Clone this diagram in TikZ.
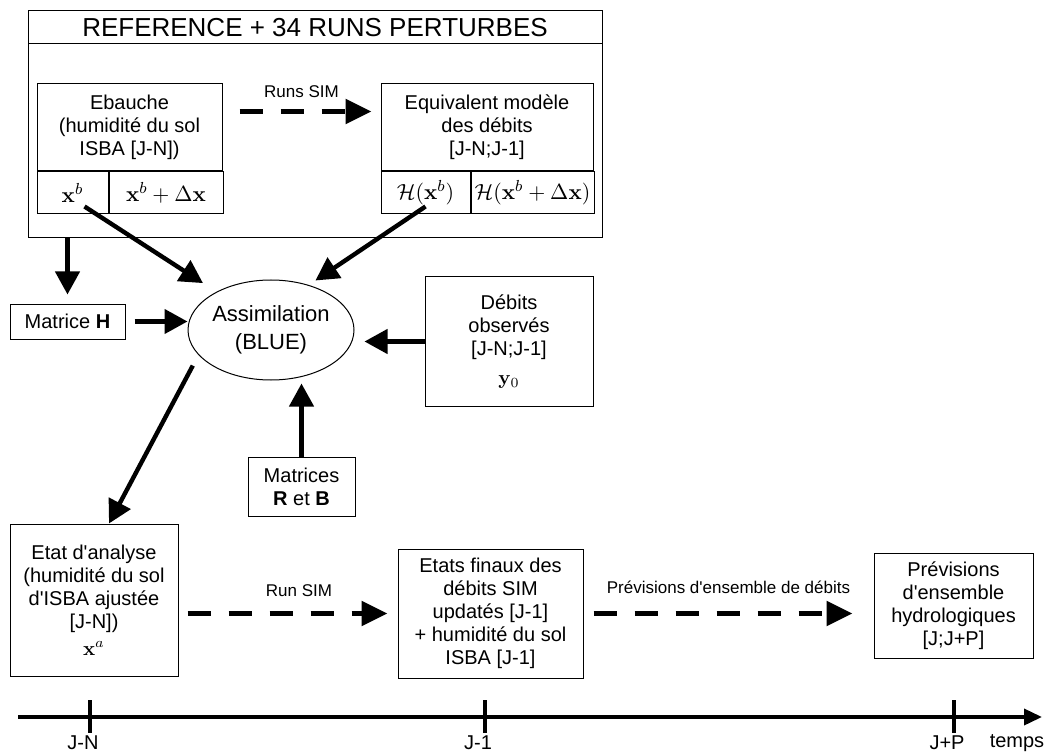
\documentclass[tikz,border=0pt]{standalone}
\usepackage{amsmath,amssymb}
\usepackage[no-math]{fontspec}
\setmainfont{Liberation Sans}[Ligatures=TeXOff]
\usetikzlibrary{shapes.geometric, arrows.meta, positioning}

\begin{document}
\begin{tikzpicture}[
    x=0.5pt, y=-0.5pt,
    box/.style={
        rectangle,
        draw,
        line width=0.5pt,
        inner sep=0pt,
        align=center,
        font=\fontsize{10}{11.5}\selectfont
    },
    cell/.style={
        box,
        anchor=north west,
        minimum height=21pt,
        font=\fontsize{11}{13}\selectfont
    },
    arrowlabel/.style={font=\fontsize{8.5}{10}\selectfont, inner sep=1pt},
    ticklabel/.style={font=\fontsize{10}{11}\selectfont, inner sep=0pt},
    arrow/.style={-{Triangle[length=11.5pt,width=12pt]}, line width=2.2pt},
    dasharrow/.style={-{Triangle[length=13pt,width=12pt]}, line width=2.8pt, dash pattern=on 11.5pt off 9pt},
    timeaxis/.style={-{Triangle[length=9pt,width=8pt]}, line width=1.8pt},
    tickmark/.style={line width=1.8pt}
]
\useasboundingbox (0,0) rectangle (1047,753);

\node[box, minimum width=287pt, minimum height=113.5pt] (runs) at (315,124.5) {};
\node[box, minimum width=287pt, minimum height=16.5pt, font=\fontsize{13}{15}\selectfont] (title) at (315,27.5) {REFERENCE + 34 RUNS PERTURBES};

\node[box, minimum width=92.5pt, minimum height=43.5pt] (ebauche) at (129.5,127.5) {Ebauche\\(humidité du sol\\ISBA [J-N])};
\node[cell, minimum width=35.5pt] (xb) at (ebauche.south west) {$\mathbf{x}^b$};
\node[cell, minimum width=57pt, right=0pt of xb] (xbdx) {$\mathbf{x}^b+\Delta\mathbf{x}$};

\node[box, minimum width=106pt, minimum height=43.5pt] (equiv) at (487,127.5) {Equivalent modèle\\des débits\\{[J-N;J-1]}};
\node[cell, minimum width=44.5pt] (hxb) at (equiv.south west) {$\mathcal{H}(\mathbf{x}^b)$};
\node[cell, minimum width=61.5pt, right=0pt of hxb] (hxbdx) {$\mathcal{H}(\mathbf{x}^b+\Delta\mathbf{x})$};

\node[box, minimum width=57.5pt, minimum height=17.5pt] (matH) at (67.5,321.5) {Matrice \textbf{H}};
\node[ellipse, draw, line width=0.5pt, inner sep=0pt, minimum width=83pt, minimum height=50pt, align=center, font=\fontsize{11}{14}\selectfont] (assim) at (271,330) {Assimilation\\(BLUE)};
\node[box, minimum width=84pt, minimum height=64.5pt] (debits) at (509,341.5) {Débits\\observés\\{[J-N;J-1]}\\[3pt]$\mathbf{y}_0$};
\node[box, minimum width=53.5pt, minimum height=29.5pt] (matRB) at (301.5,486.5) {Matrices\\\textbf{R} et \textbf{B}};

\node[box, minimum width=84pt, minimum height=76pt] (etat) at (94,600) {Etat d'analyse\\(humidité du sol\\d'ISBA ajustée\\{[J-N])}\\[2pt]$\mathbf{x}^a$};
\node[box, minimum width=92.5pt, minimum height=64.5pt] (finaux) at (490.5,613.5) {Etats finaux des\\débits SIM\\updatés [J-1]\\+ humidité du sol\\ISBA [J-1]};
\node[box, minimum width=79.5pt, minimum height=52.5pt] (prevs) at (953.5,605.5) {Prévisions\\d'ensemble\\hydrologiques\\{[J;J+P]}};

\draw[dasharrow, shorten <=8.5pt, shorten >=4.5pt] ([yshift=8pt]ebauche.east) -- node[arrowlabel, above=4.5pt] {Runs SIM} ([yshift=8pt]equiv.west);
\draw[arrow, shorten >=4.5pt] (runs.south -| matH.north) -- (matH.north);
\draw[arrow, shorten <=4.5pt] (matH.east) -- (matH.east -| assim.west);
\draw[arrow, shorten >=8pt] ([xshift=6pt,yshift=4pt]xb.south) -- (assim.145);
\draw[arrow, shorten >=4pt] ([yshift=4pt]hxb.south) -- (assim.50);
\draw[arrow, shorten >=5pt] (debits.west) -- (debits.west -| assim.east);
\draw[arrow, shorten >=1.5pt] (matRB.north) -- (matRB.north |- assim.south);
\draw[arrow, shorten <=6pt] (assim.199) -- ([xshift=7.5pt]etat.north);

\draw[dasharrow, shorten <=4.5pt, shorten >=5pt] (etat.east |- finaux.west) -- node[arrowlabel, above=6pt, pos=0.55] {Run SIM} (finaux.west);
\draw[dasharrow, shorten <=5pt, shorten >=10.5pt] (finaux.east) -- node[arrowlabel, above=7.5pt] {Prévisions d'ensemble de débits} (finaux.east -| prevs.west);

\coordinate (tstart) at (18,717);
\coordinate (tend) at (1042,717);
\draw[timeaxis] (tstart) -- (tend);
\foreach \x/\t/\n in {90/J-N/jn, 485/J-1/jm, 954/J+P/jp} {
    \draw[tickmark] (\x,700) -- (\x,733);
    \node[ticklabel] (\n) at (\x-7,743) {\t};
}
\node[ticklabel] (temps) at (1017,743) {temps};

\end{tikzpicture}
\end{document}
